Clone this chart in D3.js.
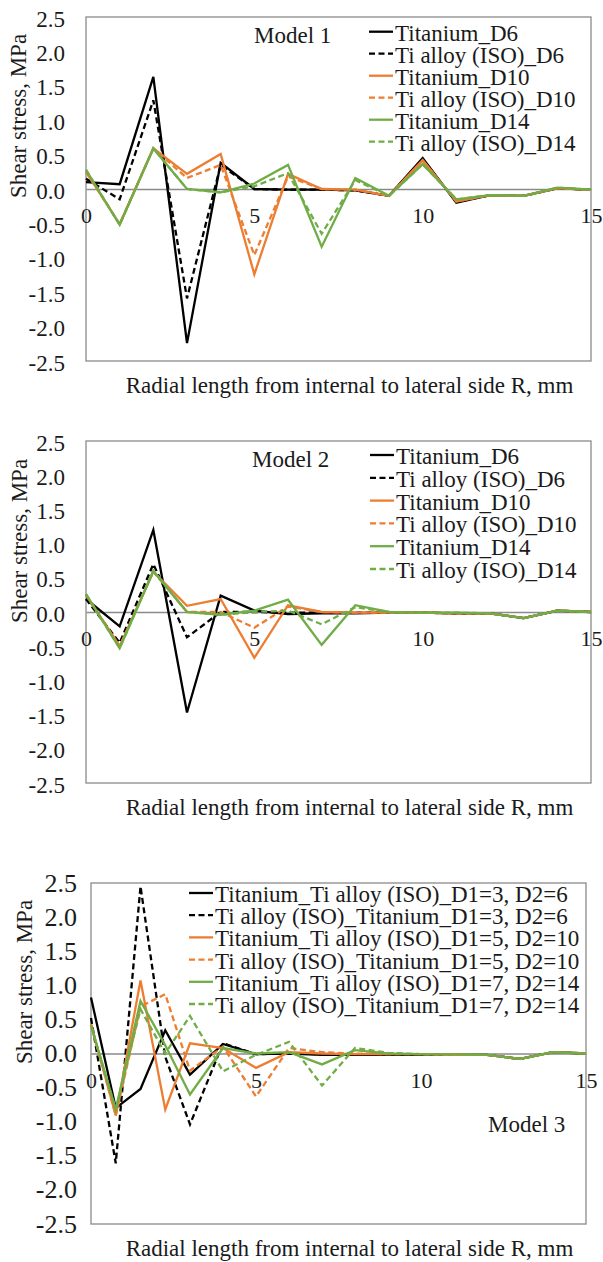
<!DOCTYPE html>
<html>
<head>
<meta charset="utf-8">
<script src="https://cdn.jsdelivr.net/npm/d3@7"></script>
<style>
  body { margin: 0; background: #fff; }
  svg { display: block; }
  svg text { font-family: "Liberation Serif", "Times New Roman", serif; }
</style>
</head>
<body>
<svg id="chart" width="603" height="1262"></svg>
<script>
// radial positions (mm)
const radialM12 = [0, 1, 2, 3, 4, 5, 6, 7, 8, 9, 10, 11, 12, 13, 14, 15];
const radialM3 = [0, 0.75, 1.5, 2.25, 3, 4, 5, 6, 7, 8, 9, 10, 11, 12, 13, 14, 15];

const yTicks = [2.5, 2.0, 1.5, 1.0, 0.5, 0.0, -0.5, -1.0, -1.5, -2.0, -2.5];
const xTicks = [0, 5, 10, 15];

const namesM12 = ["Titanium_D6", "Ti alloy (ISO)_D6", "Titanium_D10", "Ti alloy (ISO)_D10", "Titanium_D14", "Ti alloy (ISO)_D14"];
const namesM3 = [
  "Titanium_Ti alloy (ISO)_D1=3, D2=6", "Ti alloy (ISO)_Titanium_D1=3, D2=6",
  "Titanium_Ti alloy (ISO)_D1=5, D2=10", "Ti alloy (ISO)_Titanium_D1=5, D2=10",
  "Titanium_Ti alloy (ISO)_D1=7, D2=14", "Ti alloy (ISO)_Titanium_D1=7, D2=14"
];

// Model 1 shear stress (MPa)
const m1TiD6 = [0.10, 0.07, 1.63, -2.24, 0.38, 0.00, -0.01, -0.01, -0.02, -0.10, 0.45, -0.20, -0.09, -0.10, 0.01, -0.01];
const m1AlloyD6 = [0.15, -0.15, 1.29, -1.59, 0.35, 0.00, -0.01, -0.01, -0.02, -0.10, 0.43, -0.19, -0.09, -0.10, 0.01, -0.01];
const m1TiD10 = [0.25, -0.51, 0.59, 0.22, 0.51, -1.24, 0.22, 0.00, -0.01, -0.10, 0.42, -0.18, -0.09, -0.10, 0.01, -0.01];
const m1AlloyD10 = [0.25, -0.51, 0.59, 0.16, 0.35, -0.96, 0.18, 0.00, -0.01, -0.10, 0.41, -0.18, -0.09, -0.10, 0.01, -0.01];
const m1TiD14 = [0.28, -0.52, 0.59, 0.00, -0.05, 0.08, 0.35, -0.84, 0.16, -0.10, 0.36, -0.15, -0.09, -0.10, 0.02, -0.01];
const m1AlloyD14 = [0.28, -0.52, 0.59, 0.00, -0.05, 0.04, 0.23, -0.65, 0.13, -0.10, 0.36, -0.15, -0.09, -0.10, 0.02, -0.01];

// Model 2
const m2TiD6 = [0.19, -0.21, 1.20, -1.47, 0.24, 0.02, -0.03, -0.02, -0.02, -0.01, -0.01, -0.02, -0.02, -0.09, 0.02, 0.00];
const m2AlloyD6 = [0.19, -0.45, 0.70, -0.37, 0.00, 0.00, -0.01, -0.01, -0.01, -0.01, -0.01, -0.02, -0.02, -0.09, 0.02, 0.00];
const m2TiD10 = [0.25, -0.50, 0.59, 0.09, 0.19, -0.67, 0.10, 0.00, -0.01, -0.01, -0.01, -0.02, -0.02, -0.09, 0.02, 0.00];
const m2AlloyD10 = [0.25, -0.50, 0.59, 0.00, 0.00, -0.23, 0.08, 0.00, -0.01, -0.01, -0.01, -0.02, -0.02, -0.09, 0.02, 0.00];
const m2TiD14 = [0.26, -0.53, 0.60, 0.00, -0.04, 0.02, 0.18, -0.48, 0.10, 0.00, -0.01, -0.01, -0.02, -0.09, 0.02, 0.00];
const m2AlloyD14 = [0.26, -0.53, 0.60, 0.00, -0.04, 0.00, 0.02, -0.18, 0.07, 0.00, -0.01, -0.01, -0.02, -0.09, 0.02, 0.00];

// Model 3
const m3TiAlloy3 = [0.82, -0.80, -0.52, 0.34, -0.31, 0.14, -0.01, 0.00, -0.02, -0.02, -0.02, -0.02, -0.02, -0.02, -0.08, 0.02, 0.00];
const m3AlloyTi3 = [0.52, -1.61, 2.45, -0.05, -1.04, 0.15, -0.01, 0.00, -0.01, -0.01, -0.01, -0.01, -0.02, -0.02, -0.08, 0.02, 0.00];
const m3TiAlloy5 = [0.43, -0.91, 1.07, -0.82, 0.15, 0.08, -0.21, 0.02, 0.00, -0.01, -0.01, -0.01, -0.02, -0.02, -0.08, 0.02, 0.00];
const m3AlloyTi5 = [0.43, -0.91, 0.69, 0.87, -0.25, 0.10, -0.63, 0.08, 0.02, 0.00, -0.01, -0.01, -0.02, -0.02, -0.08, 0.02, 0.00];
const m3TiAlloy7 = [0.41, -0.82, 0.77, 0.12, -0.60, 0.08, 0.00, 0.02, -0.16, 0.05, 0.00, -0.01, -0.01, -0.02, -0.08, 0.02, 0.00];
const m3AlloyTi7 = [0.41, -0.82, 0.65, 0.00, 0.55, -0.26, -0.02, 0.17, -0.47, 0.08, 0.01, -0.01, -0.01, -0.02, -0.08, 0.02, 0.00];

const colors = ["#000000", "#000000", "#ED7D31", "#ED7D31", "#70AD47", "#70AD47"];
const dashed = [false, true, false, true, false, true];

const svg = d3.select("#chart");
const serif = '"Liberation Serif", "Times New Roman", serif';
const textColor = "#1a1a1a";
const gridColor = "#8a8a8a";

function drawPanel(p) {
  const x = d3.scaleLinear().domain([0, 15]).range([p.left, p.right]);
  const y = d3.scaleLinear().domain([-2.5, 2.5]).range([p.bottom, p.top]);
  const g = svg.append("g");

  // plot frame
  g.append("rect")
    .attr("x", p.left).attr("y", p.top)
    .attr("width", p.right - p.left).attr("height", p.bottom - p.top)
    .attr("fill", "none").attr("stroke", gridColor).attr("stroke-width", 1.3);

  // y axis labels
  const yAxis = g.append("g")
    .attr("transform", "translate(" + p.yLabelRight + ",0)")
    .call(d3.axisLeft(y).tickValues(yTicks).tickFormat(d => d.toFixed(1)).tickSize(0).tickPadding(0));
  yAxis.select(".domain").remove();
  yAxis.selectAll("text")
    .attr("dy", null).attr("y", p.yTickDy)
    .style("font-family", serif).style("font-size", p.yTickSize + "px")
    .attr("fill", textColor);

  // x axis on the zero line
  const xAxis = g.append("g")
    .attr("transform", "translate(0," + y(0) + ")")
    .call(d3.axisBottom(x).tickValues(xTicks).tickSize(0).tickSizeOuter(0));
  xAxis.select(".domain").attr("stroke", gridColor).attr("stroke-width", 1.3);
  xAxis.selectAll("text")
    .attr("dy", null).attr("y", 34)
    .style("font-family", serif).style("font-size", "22px")
    .attr("fill", textColor);

  // series
  const line = d3.line().x(d => x(d[0])).y(d => y(d[1]));
  p.series.forEach((vals, i) => {
    g.append("path")
      .datum(p.radial.map((r, j) => [r, vals[j]]))
      .attr("d", line)
      .attr("fill", "none")
      .attr("stroke", colors[i])
      .attr("stroke-width", 2.3)
      .attr("stroke-dasharray", dashed[i] ? "6,3.5" : null);
  });

  // legend
  const lg = g.append("g");
  p.names.forEach((name, i) => {
    const ly = p.legendY + i * p.legendStep;
    lg.append("line")
      .attr("x1", p.legendX).attr("x2", p.legendX + 24)
      .attr("y1", ly).attr("y2", ly)
      .attr("stroke", colors[i]).attr("stroke-width", 2.3)
      .attr("stroke-dasharray", dashed[i] ? "6,3.5" : null);
    lg.append("text")
      .attr("x", p.legendX + 26).attr("y", ly + 9)
      .attr("font-size", 23).attr("fill", textColor)
      .text(name);
  });

  // model label
  g.append("text")
    .attr("x", p.modelX).attr("y", p.modelY)
    .attr("font-size", 23).attr("fill", textColor)
    .text(p.model);

  // axis titles
  g.append("text")
    .attr("transform", "translate(" + p.yTitleX + "," + p.yTitleY + ") rotate(-90)")
    .attr("text-anchor", "middle")
    .attr("font-size", 23).attr("fill", textColor)
    .text("Shear stress, MPa");
  g.append("text")
    .attr("x", 349.5).attr("y", p.bottom + 32)
    .attr("text-anchor", "middle")
    .attr("font-size", 23).attr("fill", textColor)
    .text("Radial length from internal to lateral side R, mm");
}

drawPanel({
  left: 86, right: 591, top: 17, bottom: 361,
  radial: radialM12, names: namesM12,
  series: [m1TiD6, m1AlloyD6, m1TiD10, m1AlloyD10, m1TiD14, m1AlloyD14],
  yLabelRight: 65, yTickSize: 23, yTickDy: 9,
  legendX: 369, legendY: 31.7, legendStep: 22,
  model: "Model 1", modelX: 254, modelY: 42.5,
  yTitleX: 26, yTitleY: 116
});

drawPanel({
  left: 86, right: 591, top: 441, bottom: 783,
  radial: radialM12, names: namesM12,
  series: [m2TiD6, m2AlloyD6, m2TiD10, m2AlloyD10, m2TiD14, m2AlloyD14],
  yLabelRight: 65, yTickSize: 23, yTickDy: 9,
  legendX: 370, legendY: 455, legendStep: 22.8,
  model: "Model 2", modelX: 252, modelY: 466.5,
  yTitleX: 27, yTitleY: 541
});

drawPanel({
  left: 91, right: 586, top: 883, bottom: 1224,
  radial: radialM3, names: namesM3,
  series: [m3TiAlloy3, m3AlloyTi3, m3TiAlloy5, m3AlloyTi5, m3TiAlloy7, m3AlloyTi7],
  yLabelRight: 77, yTickSize: 26, yTickDy: 8,
  legendX: 189, legendY: 893, legendStep: 22.2,
  model: "Model 3", modelX: 488, modelY: 1131.5,
  yTitleX: 31.5, yTitleY: 982
});
</script>
</body>
</html>
